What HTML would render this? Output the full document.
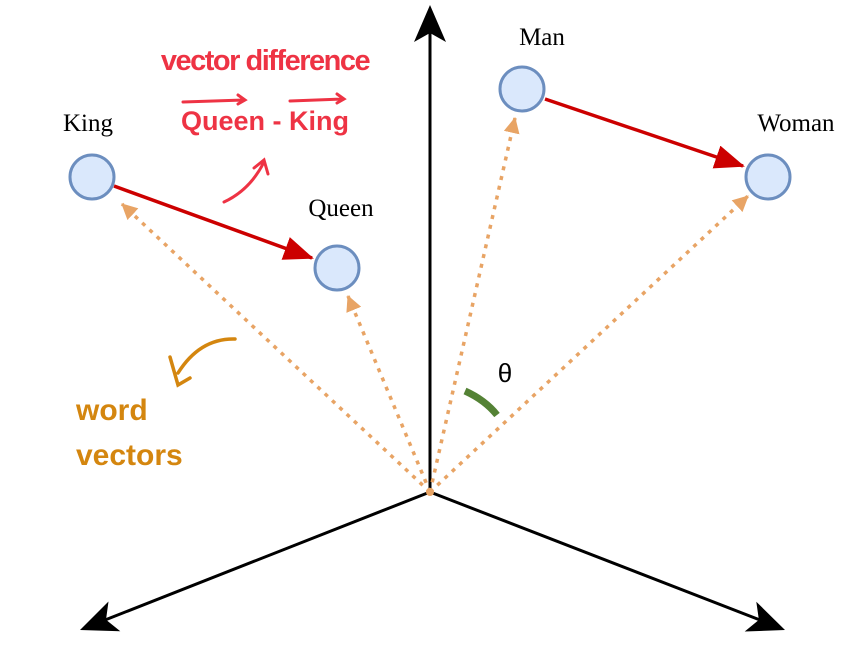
<!DOCTYPE html>
<html><head><style>body{margin:0;background:#fff}svg{display:block}</style></head><body>
<svg width="850" height="659" viewBox="0 0 850 659" xmlns="http://www.w3.org/2000/svg">
<defs>
<marker id="red" markerWidth="30" markerHeight="24" refX="28" refY="12" orient="auto" markerUnits="userSpaceOnUse"><path d="M0,0 L30,12 L0,24 Z" fill="#cc0000"/></marker>
<marker id="org" markerWidth="16" markerHeight="16" refX="15" refY="8" orient="auto" markerUnits="userSpaceOnUse"><path d="M0,0 L16,8 L0,16 Z" fill="#e8a465"/></marker>
</defs>
<g stroke="#000" stroke-width="3" fill="none">
<line x1="430" y1="492" x2="430" y2="30"/>
<line x1="430" y1="492" x2="105" y2="620"/>
<line x1="430" y1="492" x2="760" y2="620"/>
</g>
<path d="M430,5 L446,42 L430,33 L414,42 Z" fill="#000"/>
<path d="M80,630 L120.3,631.3 L106,619.7 L108.5,601.5 Z" fill="#000"/>
<path d="M785,630 L744.7,631.5 L758.9,619.9 L756.3,601.7 Z" fill="#000"/>
<g stroke="#e8a465" stroke-width="3.5" stroke-dasharray="4,6" fill="none">
<line x1="430" y1="492" x2="122" y2="204" marker-end="url(#org)"/>
<line x1="430" y1="492" x2="348" y2="296" marker-end="url(#org)"/>
<line x1="430" y1="492" x2="515" y2="118" marker-end="url(#org)"/>
<line x1="430" y1="492" x2="748" y2="196" marker-end="url(#org)"/>
</g>
<circle cx="430" cy="492" r="4" fill="#e8a465"/>
<line x1="114" y1="186" x2="312" y2="258" stroke="#cc0000" stroke-width="3.5" marker-end="url(#red)"/>
<line x1="545" y1="99" x2="743" y2="166" stroke="#cc0000" stroke-width="3.5" marker-end="url(#red)"/>
<g fill="#dae8fc" stroke="#6c8ebf" stroke-width="3">
<circle cx="92" cy="177" r="22"/>
<circle cx="337" cy="268" r="22"/>
<circle cx="522" cy="89" r="22"/>
<circle cx="768" cy="177" r="22"/>
</g>
<g font-family="Liberation Serif, serif" font-size="25" fill="#000" text-anchor="middle">
<text x="88" y="131">King</text>
<text x="341" y="216">Queen</text>
<text x="542" y="45">Man</text>
<text x="796" y="131">Woman</text>
</g>
<path d="M465,391 Q485,400 497,415" stroke="#548235" stroke-width="7" fill="none"/>
<text x="505" y="382" font-family="Liberation Sans, sans-serif" font-size="26" text-anchor="middle">θ</text>
<g font-family="Liberation Sans, sans-serif" fill="#ee3344" font-weight="bold">
<text x="265" y="70" font-size="29" text-anchor="middle" letter-spacing="-1.5">vector difference</text>
<text x="265" y="130" font-size="27" text-anchor="middle">Queen - King</text>
</g>
<g stroke="#ee3344" stroke-width="3" fill="none" stroke-linecap="round">
<path d="M183,102 L244,100 M238,95 L245,100 L238,104"/>
<path d="M290,101 L343,99 M337,94 L344,99 L337,103"/>
<path d="M224,202 Q250,190 264,162 M254,168 L264,160 L268,174"/>
</g>
<g fill="#d4860f" font-family="Liberation Sans, sans-serif" font-weight="bold" font-size="30">
<text x="76" y="420">word</text>
<text x="76" y="465">vectors</text>
</g>
<path d="M235,339 Q200,338 178,373 M170,357 L178,385 L190,378" stroke="#d4860f" stroke-width="3.5" fill="none" stroke-linecap="round"/>
</svg>
</body></html>
